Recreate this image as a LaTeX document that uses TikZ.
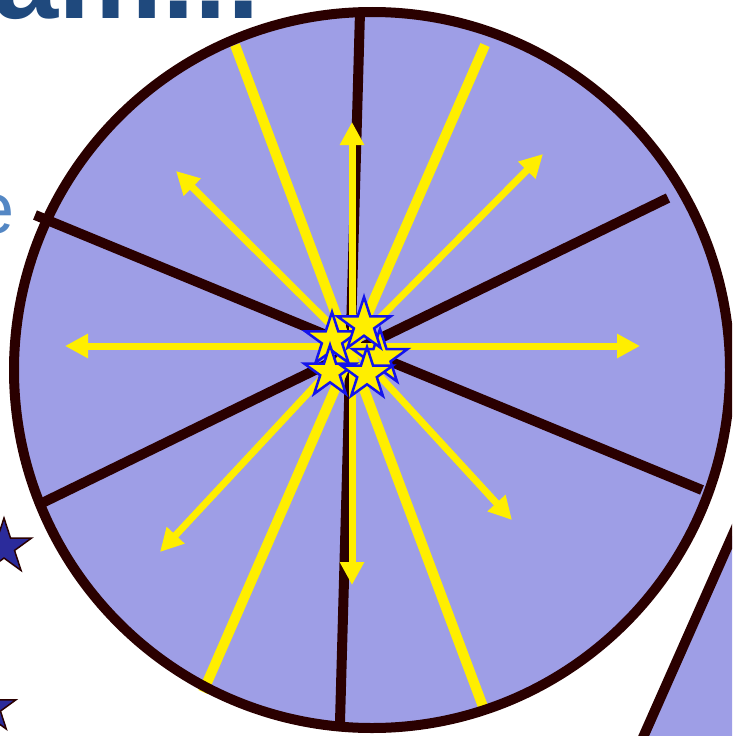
\documentclass[tikz,border=0pt]{standalone}
\usepackage{fontspec}
\setmainfont{Liberation Sans}
\usetikzlibrary{arrows.meta}
\definecolor{lav}{RGB}{158,158,230}
\definecolor{dk}{RGB}{42,0,0}
\definecolor{yel}{RGB}{255,238,0}
\definecolor{sblue}{RGB}{20,20,235}
\definecolor{navy}{RGB}{43,43,155}
\definecolor{titleblue}{RGB}{31,73,125}
\definecolor{lightblue}{RGB}{84,135,196}
\newcommand\mystarshape[4]{%
  \draw[#1,shift={(#2,#3)}] (90:#4pt) \foreach \k in {1,2,3,4}{ -- ({90+72*\k-36}:{0.382*#4pt}) -- ({90+72*\k}:{#4pt}) } -- (54:{0.382*#4pt}) -- cycle;}
\tikzset{
  spoke/.style={draw=dk, line width=10pt},
  ybar/.style={draw=yel, line width=10pt},
  yarrow/.style={draw=yel, line width=7pt, -{Triangle[length=23pt,width=23pt]}},
  cstar/.style={fill=yel, draw=sblue, line width=2.5pt, line join=miter},
  lstar/.style={fill=navy, draw=dk, line width=1.5pt},
}
\begin{document}
\begin{tikzpicture}[x=1pt,y=-1pt]
\useasboundingbox (0,0) rectangle (732,736);
\clip (0,0) rectangle (732,736);
% texts
\node[anchor=base west, inner sep=0, text=titleblue, font=\fontsize{117}{120}\selectfont\bfseries] (title) at (-7,18) {am...};
\node[anchor=base east, inner sep=0, text=lightblue, font=\fontsize{72}{80}\selectfont] (ee) at (15,233) {e};
\node[anchor=base west, inner sep=0, text=lightblue, font=\fontsize{72}{80}\selectfont] (sou) at (547,-4) {Sou};
% left stars
\mystarshape{lstar}{4}{547}{29}
\mystarshape{lstar}{-9}{708}{26}
% bottom-right shape
\draw[fill=lav, draw=dk, line width=10pt] (757,480) -- (633,760) -- (800,760) -- (800,480) -- cycle;
% wheel
\fill[lav] (372,370) circle (358);
\draw[spoke] (360,12) -- (340,722);
\draw[spoke] (35,215) -- (702,490);
\draw[spoke] (668,198) -- (38,505);
\draw[ybar] (235,45) -- (485,712);
\draw[ybar] (485,45) -- (203,692);
\draw[dk, line width=10pt] (372,370) circle (358);
% arrows
\coordinate (c) at (352,346);
\coordinate (tU) at (352,122);
\coordinate (tD) at (352,585);
\coordinate (tL) at (65,346);
\coordinate (tR) at (640,346);
\coordinate (tUL) at (176,171);
\coordinate (tUR) at (543,154);
\coordinate (tDL) at (160,552);
\coordinate (tDR) at (512,520);
\foreach \t in {tU,tD,tL,tR,tUL,tUR,tDL,tDR}{\draw[yarrow] (c) -- (\t);}
% centre stars
\mystarshape{cstar}{380}{358}{29}
\mystarshape{cstar}{332}{340}{28}
\mystarshape{cstar}{364}{325}{28}
\mystarshape{cstar}{330}{372}{27}
\mystarshape{cstar}{367}{374}{27}
\end{tikzpicture}
\end{document}
